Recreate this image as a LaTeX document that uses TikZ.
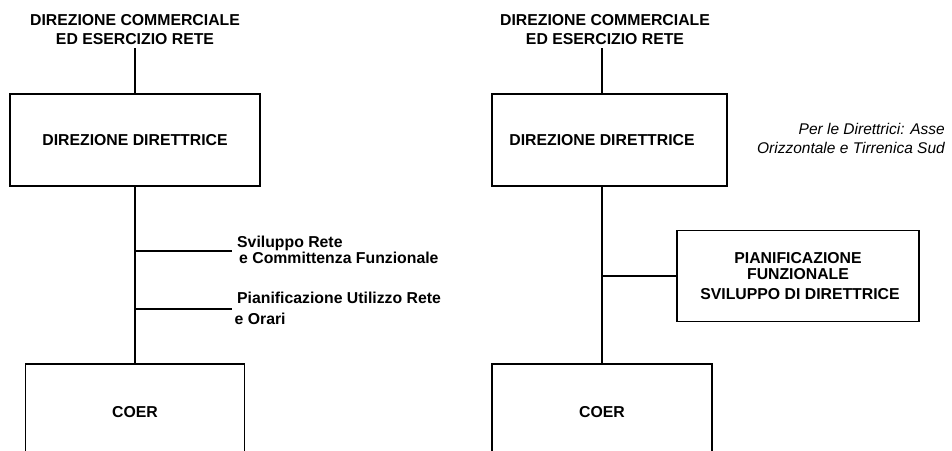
\documentclass[tikz,border=0pt]{standalone}
\usepackage{fontspec}
\setmainfont{Liberation Sans}
\begin{document}
\begin{tikzpicture}[x=1pt,y=-1pt,
  lbl/.style={font=\fontsize{15.8}{19}\selectfont\bfseries, inner sep=0pt, align=center},
  txt/.style={font=\fontsize{15.8}{19}\selectfont\bfseries, inner sep=0pt, align=left},
  note/.style={font=\fontsize{15.5}{19}\selectfont\itshape, inner sep=0pt, align=right},
  bigbox/.style={draw, line width=2.9pt, rectangle, inner sep=0pt, font=\fontsize{15.8}{19}\selectfont\bfseries},
  thinbox/.style={draw, line width=1.6pt, rectangle, inner sep=0pt, font=\fontsize{15.8}{19}\selectfont\bfseries, align=center},
  conn/.style={line width=1.6pt}]
\useasboundingbox (0,0) rectangle (952,450);
% ---------- left chart ----------
\node[lbl] (top1) at (135,30) {DIREZIONE COMMERCIALE\\ED ESERCIZIO RETE};
\node[bigbox, minimum width=250pt, minimum height=92pt] (dd1) at (135,140) {DIREZIONE DIRETTRICE};
\node[thinbox, minimum width=219pt, minimum height=96pt] (coer1) at (135,412) {COER};
\coordinate (t1) at (135,48);
\draw[conn] (t1) -- (dd1.north);
\draw[conn] (dd1.south) -- (coer1.north);
\coordinate (b1) at (135,251);
\coordinate (b1e) at (232,251);
\coordinate (b2) at (135,309);
\coordinate (b2e) at (232,309);
\draw[conn] (b1) -- (b1e);
\draw[conn] (b2) -- (b2e);
\node[txt, anchor=west] (s1) at (237,250) {Sviluppo Rete\\[-3pt]\hspace{2pt}e Committenza Funzionale};
\node[txt, anchor=west] (s2) at (237,308.5) {Pianificazione Utilizzo Rete\\[2pt]\hspace{-2.5pt}e Orari};
% ---------- right chart ----------
\node[lbl] (top2) at (605,30) {DIREZIONE COMMERCIALE\\ED ESERCIZIO RETE};
\node[bigbox, minimum width=235pt, minimum height=92pt] (dd2) at (609.5,140) {\hspace{-15pt}DIREZIONE DIRETTRICE};
\node[thinbox, minimum width=220pt, minimum height=96pt] (coer2) at (602,412) {COER};
\coordinate (t2) at (602,48);
\coordinate (d2s) at (602,186);
\coordinate (d2n) at (602,94);
\draw[conn] (t2) -- (d2n);
\draw[conn] (d2s) -- (coer2.north);
\node[thinbox, minimum width=242pt, minimum height=91pt] (pf) at (798,276)
  {PIANIFICAZIONE\hspace{8pt}\\[-3pt]FUNZIONALE\hspace{20pt}\\[1pt]\hspace{4pt}SVILUPPO DI DIRETTRICE};
\coordinate (b3) at (602,276);
\draw[conn] (b3) -- (pf.west);
\node[note, anchor=east] (nt) at (945,138) {Per le Direttrici: Asse\\Orizzontale e Tirrenica Sud};
\end{tikzpicture}
\end{document}
